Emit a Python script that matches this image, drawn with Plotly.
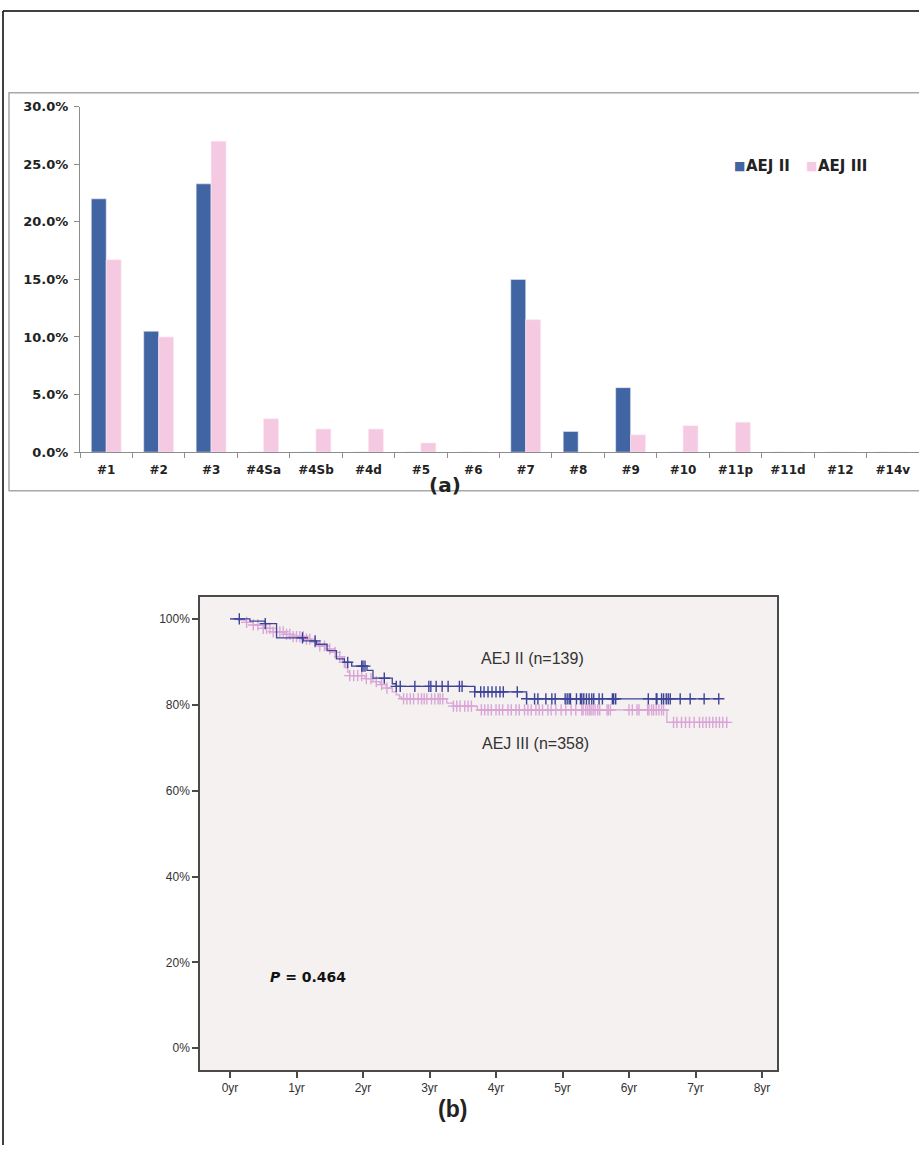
import numpy as np
import plotly.graph_objects as go

W, H = 919, 1153

# ---------------- (a) bar chart data ----------------
stations = ["#1", "#2", "#3", "#4Sa", "#4Sb", "#4d", "#5", "#6", "#7", "#8",
            "#9", "#10", "#11p", "#11d", "#12", "#14v"]
aej2_pct = [22.0, 10.5, 23.3, 0, 0, 0, 0, 0, 15.0, 1.8, 5.6, 0, 0, 0, 0, 0]
aej3_pct = [16.7, 10.0, 27.0, 2.9, 2.0, 2.0, 0.8, 0, 11.5, 0, 1.5, 2.3, 2.6, 0, 0, 0]
bar_yticks = [0, 5, 10, 15, 20, 25, 30]
bar_yticktext = ["0.0%", "5.0%", "10.0%", "15.0%", "20.0%", "25.0%", "30.0%"]

# ---------------- (b) Kaplan-Meier data ----------------
aej2_step_t = [0, 0.30, 0.53, 0.70, 1.10, 1.30, 1.46, 1.60, 1.72, 1.83, 2.06, 2.15,
               2.44, 2.50, 3.68, 4.46, 7.35]
aej2_step_s = [100, 99.5, 98.9, 95.6, 94.9, 94.1, 92.6, 90.7, 89.9, 89.0, 88.0, 86.2,
               84.9, 84.3, 83.0, 81.4, 81.4]
aej2_cens_t = [0.14, 0.53, 1.09, 1.28, 1.77, 1.98, 2.0, 2.03, 2.32, 2.50, 2.56, 2.78,
               2.99, 3.02, 3.10, 3.19, 3.28, 3.45, 3.49, 3.68, 3.77, 3.82, 3.88, 3.94,
               4.0, 4.06, 4.11, 4.32, 4.46, 4.58, 4.63, 4.75, 4.84, 4.89, 5.04, 5.07,
               5.10, 5.12, 5.21, 5.27, 5.29, 5.32, 5.36, 5.40, 5.44, 5.47, 5.55, 5.60,
               5.75, 5.77, 5.80, 6.29, 6.41, 6.42, 6.49, 6.52, 6.56, 6.59, 6.62, 6.77,
               6.92, 7.13, 7.35]

aej3_step_t = [0, 0.12, 0.24, 0.35, 0.50, 0.65, 0.82, 0.95, 1.11, 1.22, 1.34, 1.43,
               1.51, 1.60, 1.69, 1.74, 1.77, 1.80, 2.03, 2.15, 2.26, 2.35, 2.44, 2.50,
               2.55, 2.58, 3.26, 3.36, 3.72, 6.57, 7.49]
aej3_step_s = [100, 99.7, 99.2, 98.6, 97.8, 97.0, 96.4, 95.9, 95.3, 94.6, 93.7, 93.0,
               92.2, 91.2, 89.9, 88.6, 87.6, 86.8, 86.1, 85.4, 84.7, 83.9, 83.0, 82.3,
               81.8, 81.4, 80.4, 79.7, 78.8, 75.9, 75.9]
aej3_cens_t = [0.25, 0.35, 0.42, 0.50, 0.55, 0.60, 0.65, 0.70, 0.75, 0.80, 0.85, 0.90,
               0.95, 1.00, 1.05, 1.10, 1.15, 1.20, 1.28, 1.35, 1.42, 1.50, 1.58, 1.65,
               1.72, 1.80, 1.86, 1.92, 1.98, 2.05, 2.12, 2.20, 2.28, 2.36,
               2.61, 2.66, 2.71, 2.76, 2.83, 2.88, 2.92, 2.96, 3.03, 3.08, 3.13, 3.16,
               3.20, 3.36, 3.41, 3.46, 3.53, 3.58, 3.63, 3.78, 3.83, 3.88, 3.93, 4.00,
               4.05, 4.10, 4.18, 4.23, 4.30, 4.35, 4.43, 4.48, 4.53, 4.60, 4.65, 4.70,
               4.78, 4.83, 4.90, 4.98, 5.05, 5.13, 5.20, 5.29, 5.31, 5.35, 5.38, 5.41,
               5.43, 5.46, 5.49, 5.53, 5.56, 5.67, 5.69, 5.72, 6.00, 6.05, 6.12, 6.15,
               6.28, 6.30, 6.34, 6.37, 6.41, 6.45, 6.49, 6.52,
               6.67, 6.72, 6.79, 6.85, 6.91, 6.98, 7.06, 7.11, 7.16, 7.21, 7.26, 7.31,
               7.36, 7.41, 7.47]
km_xticks = [0, 1, 2, 3, 4, 5, 6, 7, 8]
km_xticktext = ["0yr", "1yr", "2yr", "3yr", "4yr", "5yr", "6yr", "7yr", "8yr"]
km_yticks = [0, 20, 40, 60, 80, 100]
km_yticktext = ["0%", "20%", "40%", "60%", "80%", "100%"]


def px(x):
    return x / W


def py(y):
    return 1 - y / H


def step_lookup(t_steps, s_steps, t_query):
    idx = np.searchsorted(np.array(t_steps), np.array(t_query), side="right") - 1
    idx = np.clip(idx, 0, len(s_steps) - 1)
    return [s_steps[i] for i in idx]


BLUE_BAR = "#4164A2"
PINK_BAR = "#F5C9E1"
KM_BLUE = "#3D4397"
KM_PINK = "#D9A5D6"

fig = go.Figure()

# bar chart
fig.add_trace(go.Bar(x=stations, y=aej2_pct, name="AEJ II", marker=dict(color=BLUE_BAR, line=dict(color="#E8ECF5", width=0.6)),
                     xaxis="x", yaxis="y", showlegend=False))
fig.add_trace(go.Bar(x=stations, y=aej3_pct, name="AEJ III", marker=dict(color=PINK_BAR, line=dict(color="#FBEAF3", width=0.6)),
                     xaxis="x", yaxis="y", showlegend=False))

# KM curves
fig.add_trace(go.Scatter(x=aej3_step_t, y=aej3_step_s, mode="lines", line=dict(color=KM_PINK, width=1.3, shape="hv"),
                         xaxis="x2", yaxis="y2", showlegend=False))
fig.add_trace(go.Scatter(x=aej3_cens_t, y=step_lookup(aej3_step_t, aej3_step_s, aej3_cens_t), mode="markers",
                         marker=dict(symbol="cross-thin", size=8, line=dict(color=KM_PINK, width=1.4)),
                         xaxis="x2", yaxis="y2", showlegend=False))
fig.add_trace(go.Scatter(x=aej2_step_t, y=aej2_step_s, mode="lines", line=dict(color=KM_BLUE, width=1.3, shape="hv"),
                         xaxis="x2", yaxis="y2", showlegend=False))
fig.add_trace(go.Scatter(x=aej2_cens_t, y=step_lookup(aej2_step_t, aej2_step_s, aej2_cens_t), mode="markers",
                         marker=dict(symbol="cross-thin", size=8, line=dict(color=KM_BLUE, width=1.4)),
                         xaxis="x2", yaxis="y2", showlegend=False))

km_font = dict(family="Liberation Sans, Arial", size=12, color="#333333")

# KM axis geometry: 0yr at x=230, 8yr at x=762; 100% at y=620, 0% at y=1055
km_left, km_right, km_top, km_bot = 200, 777, 598, 1077
ppy = (762 - 230) / 8.0
ppp = (1055 - 620) / 100.0

fig.update_layout(
    width=W, height=H,
    margin=dict(l=0, r=0, t=0, b=0, pad=0),
    paper_bgcolor="white",
    plot_bgcolor="white",
    barmode="group",
    bargap=0.43,
    bargroupgap=0,
    xaxis=dict(domain=[px(80), 1.0], anchor="y", type="category", range=[-0.5, 15.5],
               showline=True, linecolor="#8C8C8C", linewidth=1.2,
               ticks="outside", tickson="boundaries", ticklen=5, tickcolor="#8C8C8C",
               tickfont=dict(family="DejaVu Sans", size=12, color="#222222", weight="bold"),
               ticklabelstandoff=6, showgrid=False, zeroline=False, fixedrange=True),
    yaxis=dict(domain=[py(451), py(101)], anchor="x", range=[0, 30],
               tickvals=bar_yticks, ticktext=bar_yticktext,
               showline=True, linecolor="#8C8C8C", linewidth=1.2,
               ticks="outside", ticklen=5, tickcolor="#8C8C8C",
               tickfont=dict(family="DejaVu Sans", size=13, color="#222222", weight="bold"),
               ticklabelstandoff=3, showgrid=False, zeroline=False),
    xaxis2=dict(domain=[px(km_left), px(km_right)], anchor="y2",
                range=[(km_left - 230) / ppy, (km_right - 230) / ppy],
                tickvals=km_xticks, ticktext=km_xticktext,
                showline=True, mirror=True, linecolor="#4A4A4A", linewidth=1.5,
                ticks="outside", ticklen=6, tickcolor="#4A4A4A", tickwidth=1.5,
                tickfont=km_font, showgrid=False, zeroline=False),
    yaxis2=dict(domain=[py(km_bot), py(km_top)], anchor="x2",
                range=[100 - (km_bot - 620) / ppp, 100 - (km_top - 620) / ppp],
                tickvals=km_yticks, ticktext=km_yticktext,
                showline=True, mirror=True, linecolor="#4A4A4A", linewidth=1.5,
                ticks="outside", ticklen=6, tickcolor="#4A4A4A", tickwidth=1.5,
                tickfont=km_font, showgrid=False, zeroline=False),
)

shapes = [
    # KM plot background
    dict(type="rect", xref="paper", yref="paper", x0=px(km_left), x1=px(km_right), y0=py(km_bot), y1=py(km_top),
         fillcolor="#F4F1F0", line=dict(width=0), layer="below"),
    # gray frame around (a)
    dict(type="rect", xref="paper", yref="paper", x0=px(9), x1=px(921), y0=py(490), y1=py(87),
         line=dict(color="#A8A8A8", width=1.5), fillcolor="rgba(0,0,0,0)"),
    # outer black border (top and left)
    dict(type="line", xref="paper", yref="paper", x0=px(3), x1=1.0, y0=py(4), y1=py(4),
         line=dict(color="black", width=1.5)),
    dict(type="line", xref="paper", yref="paper", x0=px(3), x1=px(3), y0=0, y1=py(4),
         line=dict(color="black", width=1.5)),
]
fig.update_layout(shapes=shapes)

annotations = [
    # legend for (a)
    dict(x=px(732), y=py(161), xref="paper", yref="paper", xanchor="left", yanchor="middle",
         text="■", showarrow=False, font=dict(family="DejaVu Sans", size=12, color=BLUE_BAR)),
    dict(x=px(744), y=py(161), xref="paper", yref="paper", xanchor="left", yanchor="middle",
         text="<b>AEJ II</b>", showarrow=False, font=dict(family="DejaVu Sans", size=15, color="#222222")),
    dict(x=px(804), y=py(161), xref="paper", yref="paper", xanchor="left", yanchor="middle",
         text="■", showarrow=False, font=dict(family="DejaVu Sans", size=12, color=PINK_BAR)),
    dict(x=px(816), y=py(161), xref="paper", yref="paper", xanchor="left", yanchor="middle",
         text="<b>AEJ III</b>", showarrow=False, font=dict(family="DejaVu Sans", size=15, color="#222222")),
    # panel labels
    dict(x=px(445), y=py(484), xref="paper", yref="paper", xanchor="center", yanchor="middle",
         text="<b>(a)</b>", showarrow=False, font=dict(family="DejaVu Sans", size=20, color="#222222")),
    dict(x=px(452), y=py(1117), xref="paper", yref="paper", xanchor="center", yanchor="middle",
         text="<b>(b)</b>", showarrow=False,
         font=dict(family="Liberation Sans Narrow, Liberation Sans, Arial", size=23, color="#222222")),
    # KM labels
    dict(x=px(479), y=py(660), xref="paper", yref="paper", xanchor="left", yanchor="middle",
         text="AEJ II (n=139)", showarrow=False, font=dict(family="Liberation Sans, Arial", size=16, color="#333333")),
    dict(x=px(480), y=py(746), xref="paper", yref="paper", xanchor="left", yanchor="middle",
         text="AEJ III (n=358)", showarrow=False, font=dict(family="Liberation Sans, Arial", size=16, color="#333333")),
    dict(x=px(268), y=py(983), xref="paper", yref="paper", xanchor="left", yanchor="middle",
         text="<b><i>P</i> = 0.464</b>", showarrow=False, font=dict(family="DejaVu Sans", size=14, color="#111111")),
]
fig.update_layout(annotations=annotations)

fig.write_html("out.html", config={"displayModeBar": False},
               post_script="document.body.style.margin='0';document.body.style.overflow='hidden';")
